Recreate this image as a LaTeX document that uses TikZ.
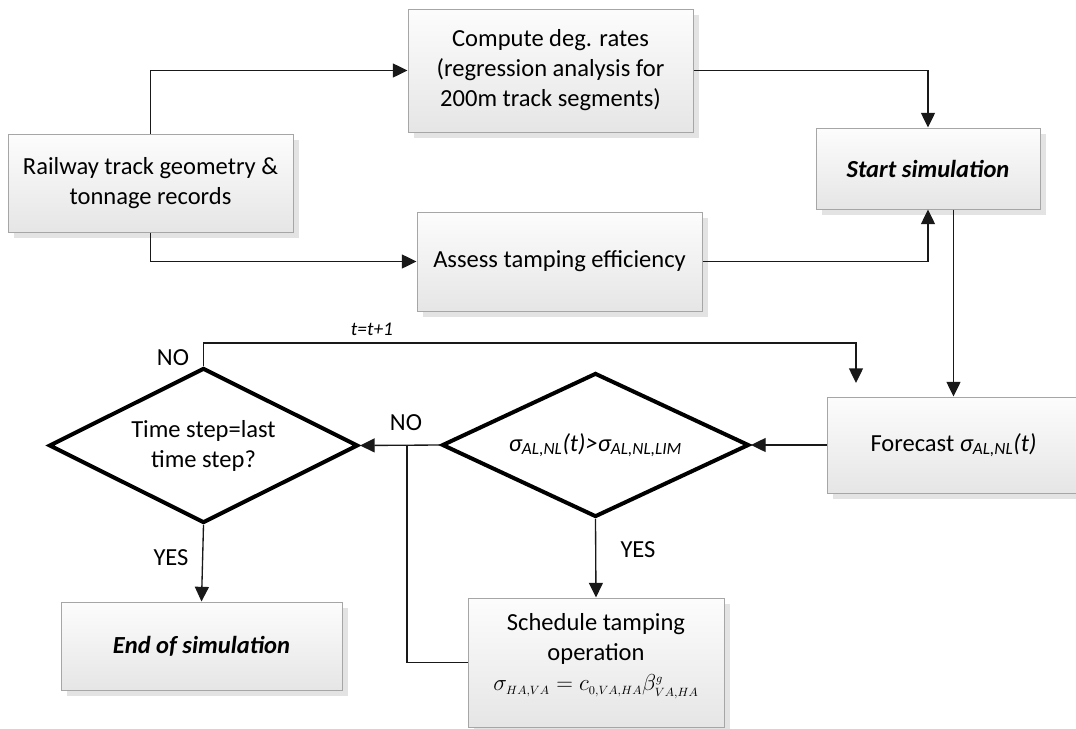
\documentclass[tikz,border=0pt]{standalone}
\usepackage{fontspec}
\setmainfont{Carlito}
\usetikzlibrary{shapes.geometric,shadows,arrows.meta}
\DeclareMathSizes{16}{16}{9.5}{7.5}

\tikzset{
  txt/.style={font=\fontsize{18.4}{22.5}\selectfont},
  box/.style={txt, draw=black!35, line width=0.75pt, top color=black!1, bottom color=black!10,
    drop shadow={shadow xshift=4.5pt, shadow yshift=-4.5pt, fill=black!11, opacity=1},
    align=center, inner sep=0pt},
  decision/.style={txt, diamond, draw, line width=3pt, aspect=2, align=center, inner sep=0pt},
  arr/.style={-{Triangle[length=11pt,width=10.5pt]}, line width=1pt, draw=black!90},
  link/.style={line width=1pt, draw=black!90},
}

\begin{document}
\begin{tikzpicture}[x=0.75pt,y=-0.75pt]

  \useasboundingbox (0,0) rectangle (1076,729);

  \node[box, minimum width=213.75pt, minimum height=73.5pt]  (rail)   at (150.5,183)  {Railway track geometry \&\\tonnage records};
  \node[box, minimum width=213.75pt, minimum height=92.25pt] (comp)   at (550.5,70.5) {Compute deg. rates\\(regression analysis for\\200m track segments)};
  \node[box, minimum width=213.75pt, minimum height=74.25pt] (assess) at (559.5,261.5) {Assess tamping efficiency};
  \node[box, minimum width=168pt,    minimum height=60.75pt] (start)  at (928,168.5)  {\textbf{\textit{Start simulation}}};
  \node[box, minimum width=189.75pt, minimum height=72pt]    (fore)   at (953.5,445)  {Forecast \textit{σ\textsubscript{AL,NL}(t)}};
  \node[box, minimum width=192pt,    minimum height=96.75pt, text depth=16pt] (sched) at (596,662.5)
    {Schedule tamping\\operation\\[0.5pt]{\fontsize{16}{19}\selectfont$\sigma_{HA,VA}=c_{0,VA,HA}\beta^{g}_{VA,HA}$}};
  \node[box, minimum width=210.75pt, minimum height=66pt]    (endsim) at (201.5,646)  {\textbf{\textit{End of simulation}}};

  \node[decision, minimum width=231.75pt, minimum height=116.25pt] (last) at (203.5,445.5) {Time step=last\\time step?};
  \node[decision, minimum width=230.25pt, minimum height=108pt]    (lim)  at (595.5,445)   {\textit{σ\textsubscript{AL,NL}(t)>σ\textsubscript{AL,NL,LIM}}};

  \node[txt] (nolast) at (173,358) {NO};
  \node[txt] (nolim)  at (406,423) {NO};
  \node[txt] (yeslast) at (171,558) {YES};
  \node[txt] (yeslim)  at (638,550) {YES};
  \node[font=\fontsize{14.5}{17}\selectfont\itshape] (tinc) at (372,329) {t=t+1};

  \coordinate (loopend) at (856,383);
  \coordinate (join) at (407,445);

  % Arrows
  \draw[arr]  (rail.north) |- (comp.west);
  \draw[arr]  (rail.south) |- (assess.west);
  \draw[arr]  (comp.east) -| (start.north);
  \draw[arr]  (assess.east) -| (start.south);
  \draw[arr]  (start.south -| fore.north) -- (fore.north);
  \draw[arr]  (fore.west) -- (lim.east);
  \draw[arr]  (lim.west) -- (last.east);
  \draw[link] (sched.west) -| (join);
  \draw[arr]  (lim.south) -- (sched.north);
  \draw[arr]  (last.south) -- (endsim.north);
  \draw[arr]  (last.north) |- (856,343) -- (loopend);

\end{tikzpicture}
\end{document}
